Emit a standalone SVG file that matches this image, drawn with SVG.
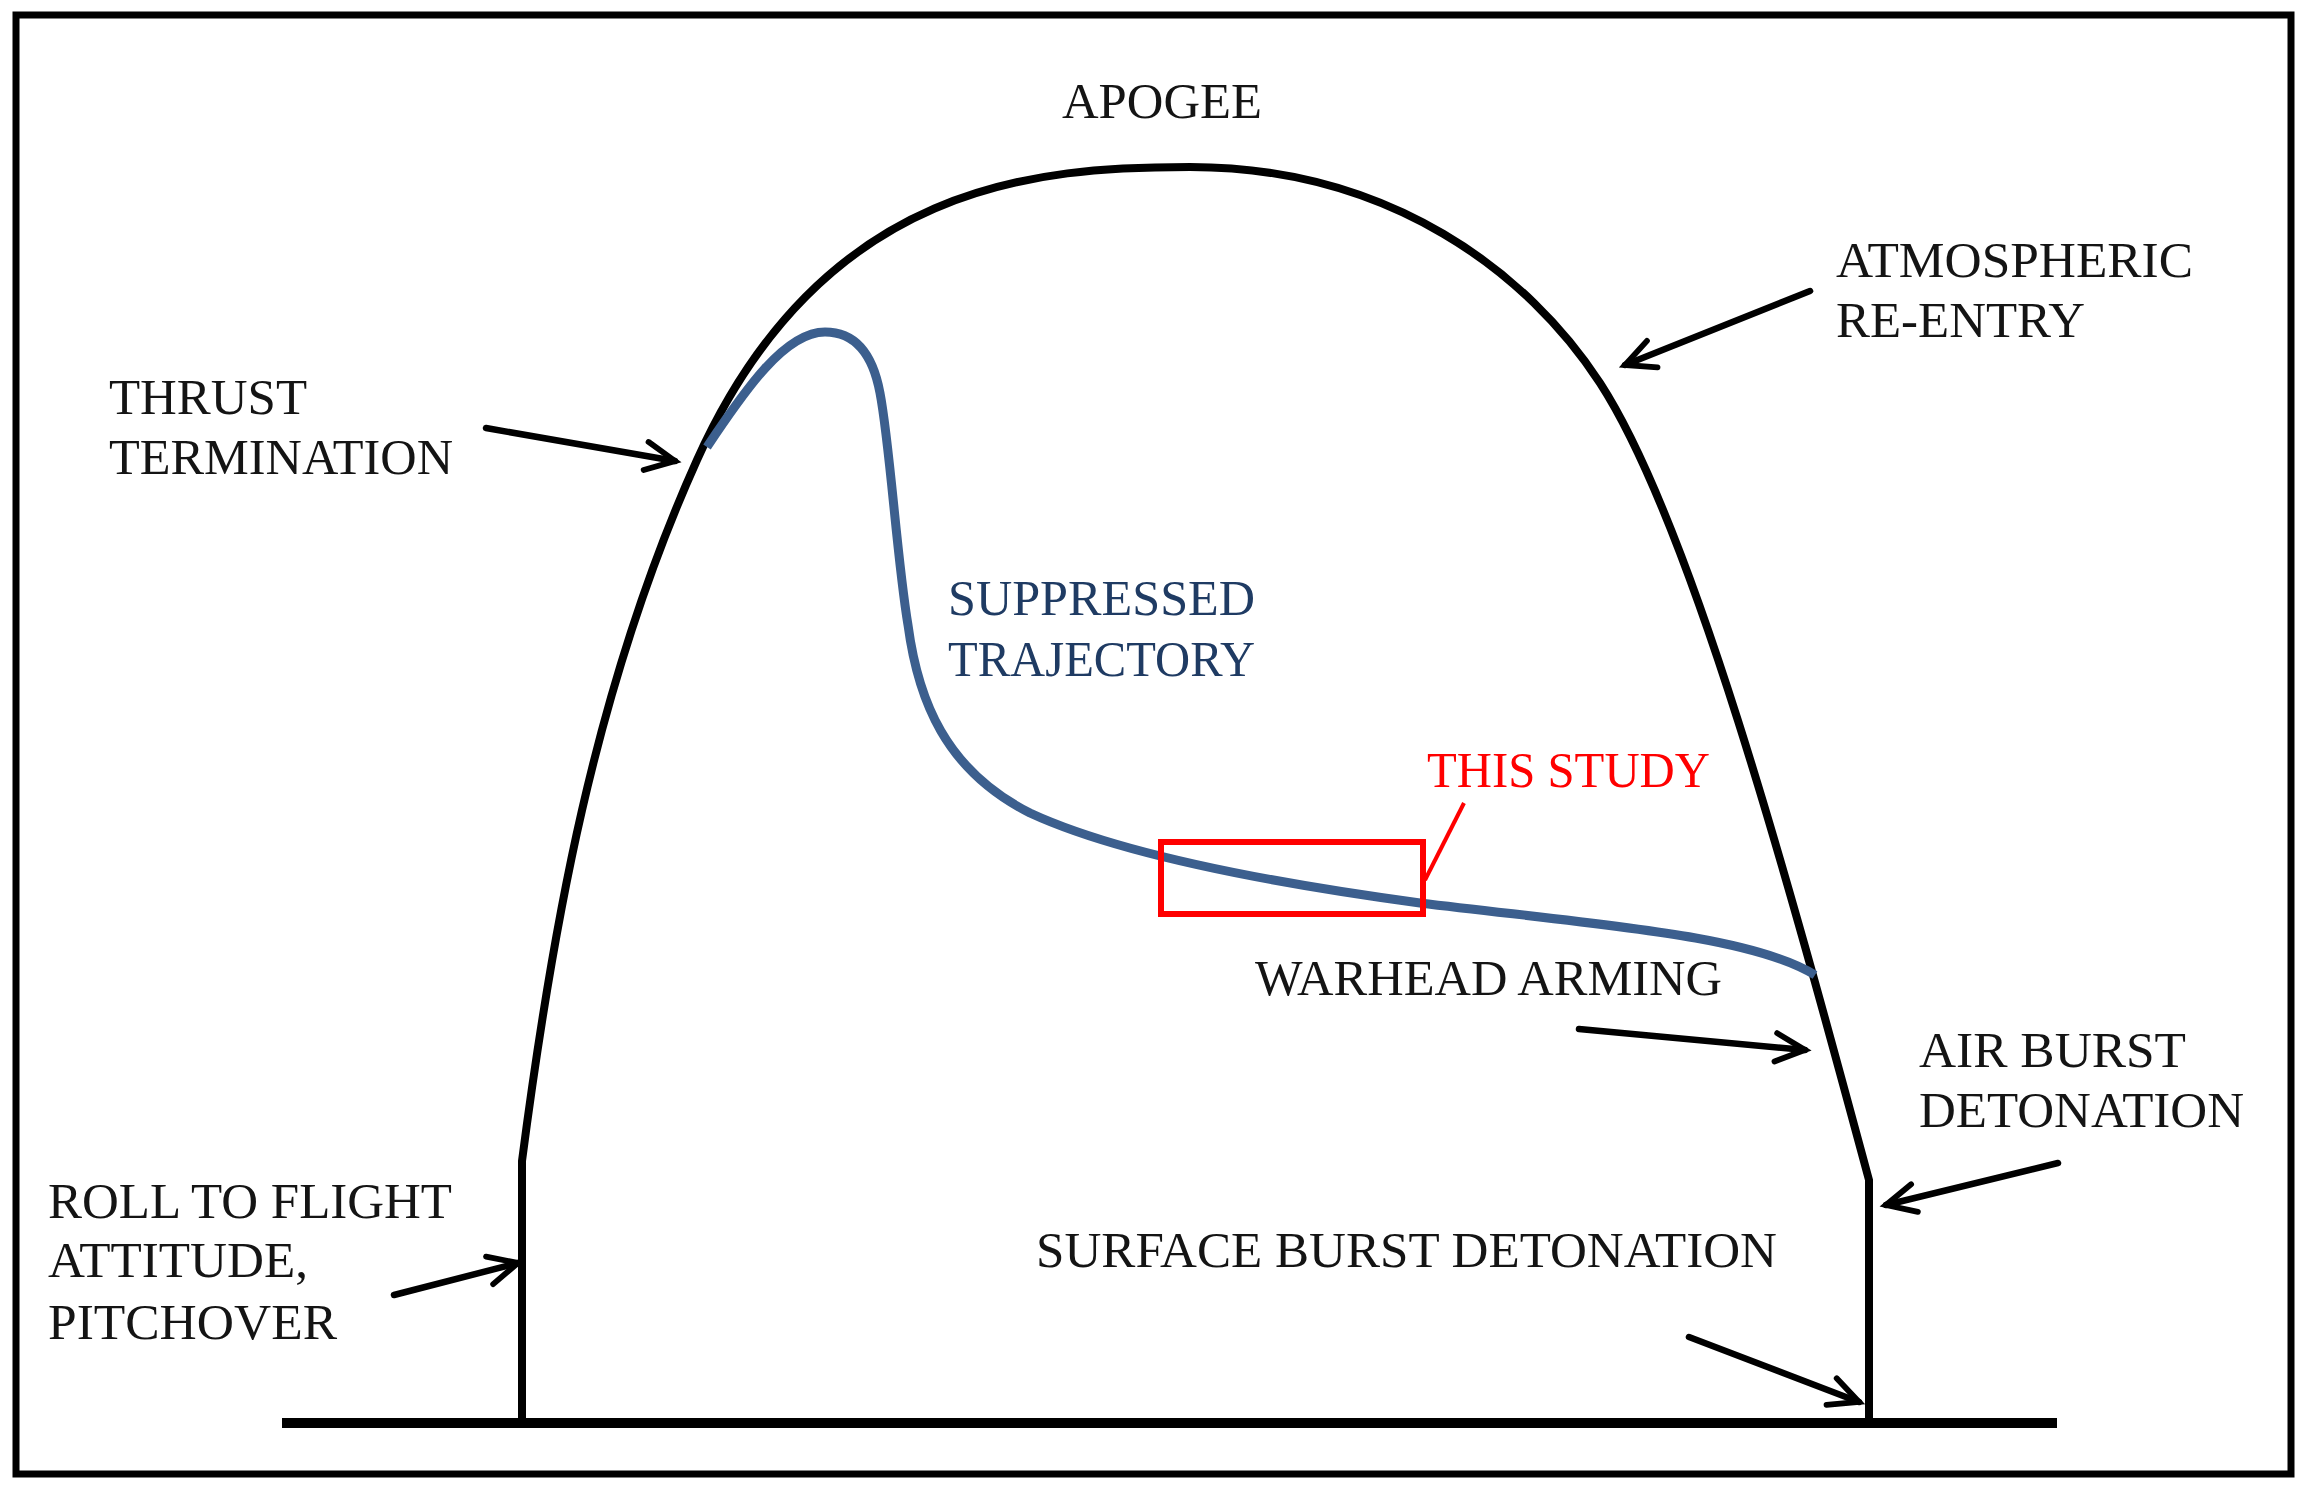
<svg xmlns="http://www.w3.org/2000/svg" width="2311" height="1495" viewBox="0 0 2311 1495">
<defs>
<style>
.lbl{font-family:"Liberation Serif","Times New Roman",serif;font-size:50px;fill:#141414;}
.blue{fill:#1f3b63;}
.red{fill:#ff0000;}
.arr{fill:none;stroke:#000;stroke-width:6.5;stroke-linecap:round;marker-end:url(#head);}
</style>
<marker id="head" markerUnits="userSpaceOnUse" markerWidth="80" markerHeight="80" refX="0" refY="0" orient="auto" viewBox="-45 -40 90 80" overflow="visible">
<path d="M-33,-16 L0,0 L-33,16" fill="none" stroke="#000" stroke-width="6.5" stroke-linecap="round" stroke-linejoin="miter"/>
</marker>
</defs>
<rect width="2311" height="1495" fill="#fff"/>
<rect x="16" y="15" width="2275" height="1459" fill="none" stroke="#000" stroke-width="7"/>

<g id="ground">
<line x1="282" y1="1423" x2="2057" y2="1423" stroke="#000" stroke-width="10"/>
</g>

<g id="trajectory">
<path d="M522,1423 L522,1161 C552,931 593.5,690 697,460 C823,180 1040,167 1190,167 C1390,167 1528.5,273 1600,383 C1691,523 1788,880 1869,1180 L1869,1423" fill="none" stroke="#000" stroke-width="8" stroke-linejoin="miter"/>
</g>

<g id="suppressed-trajectory">
<path d="M707,447 C745,390 785,332 825,332 C852,332 872,350 880,393 C890,445 897,560 908,625 C918,700 945,770 1030,813 C1110,850 1250,880 1420,903 C1600,925 1750,935 1815,975" fill="none" stroke="#3c5f8e" stroke-width="9"/>
</g>

<g id="this-study">
<rect x="1161" y="842" width="262" height="72" fill="none" stroke="#ff0000" stroke-width="6"/>
<line x1="1425" y1="880" x2="1464" y2="803" stroke="#ff0000" stroke-width="4"/>
<text class="lbl red" x="1427" y="787" textLength="283" lengthAdjust="spacingAndGlyphs">THIS STUDY</text>
</g>

<g id="connectors">
<line class="arr" x1="486" y1="428" x2="675" y2="461"/>
<line class="arr" x1="1810" y1="291" x2="1625" y2="365"/>
<line class="arr" x1="1579" y1="1029" x2="1805" y2="1050"/>
<line class="arr" x1="2058" y1="1163" x2="1886" y2="1205"/>
<line class="arr" x1="1689" y1="1337" x2="1859" y2="1402"/>
<line class="arr" x1="394" y1="1295" x2="518" y2="1263"/>
</g>

<g id="apogee"><text class="lbl" x="1062" y="118" textLength="200" lengthAdjust="spacingAndGlyphs">APOGEE</text></g>
<g id="atmospheric-reentry">
<text class="lbl" x="1836" y="277" textLength="357" lengthAdjust="spacingAndGlyphs">ATMOSPHERIC</text>
<text class="lbl" x="1836" y="337" textLength="249" lengthAdjust="spacingAndGlyphs">RE-ENTRY</text>
</g>
<g id="thrust-termination">
<text class="lbl" x="109" y="414" textLength="198" lengthAdjust="spacingAndGlyphs">THRUST</text>
<text class="lbl" x="109" y="474" textLength="344" lengthAdjust="spacingAndGlyphs">TERMINATION</text>
</g>
<g id="suppressed-label">
<text class="lbl blue" x="948" y="615" textLength="307" lengthAdjust="spacingAndGlyphs">SUPPRESSED</text>
<text class="lbl blue" x="948" y="676" textLength="307" lengthAdjust="spacingAndGlyphs">TRAJECTORY</text>
</g>
<g id="warhead-arming"><text class="lbl" x="1255" y="995" textLength="467" lengthAdjust="spacingAndGlyphs">WARHEAD ARMING</text></g>
<g id="air-burst">
<text class="lbl" x="1919" y="1067" textLength="267" lengthAdjust="spacingAndGlyphs">AIR BURST</text>
<text class="lbl" x="1919" y="1127" textLength="325" lengthAdjust="spacingAndGlyphs">DETONATION</text>
</g>
<g id="surface-burst"><text class="lbl" x="1036" y="1267" textLength="741" lengthAdjust="spacingAndGlyphs">SURFACE BURST DETONATION</text></g>
<g id="roll-to-flight">
<text class="lbl" x="48" y="1218" textLength="404" lengthAdjust="spacingAndGlyphs">ROLL TO FLIGHT</text>
<text class="lbl" x="48" y="1277" textLength="260" lengthAdjust="spacingAndGlyphs">ATTITUDE,</text>
<text class="lbl" x="48" y="1339" textLength="289" lengthAdjust="spacingAndGlyphs">PITCHOVER</text>
</g>
</svg>
